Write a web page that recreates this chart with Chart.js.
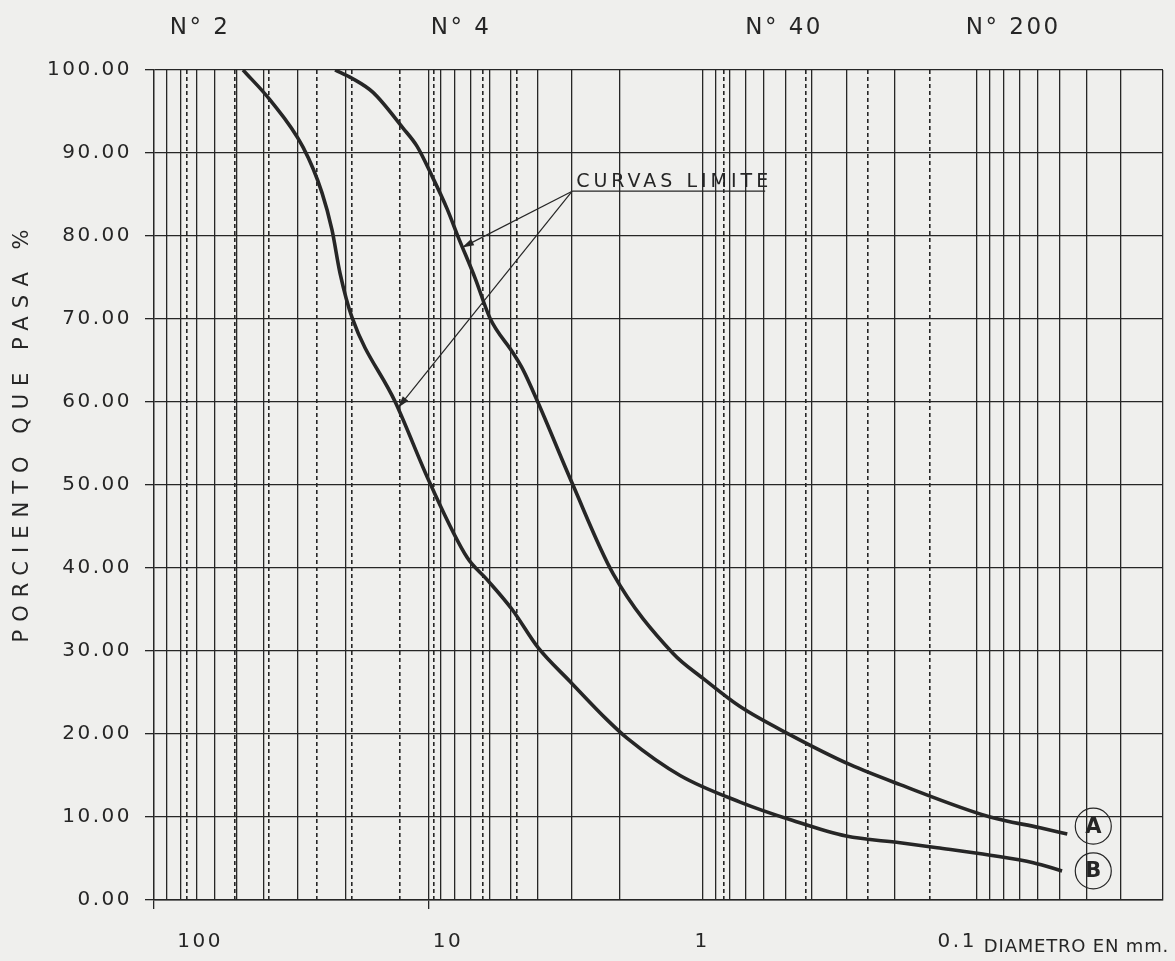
<!DOCTYPE html>
<html>
<head>
  <meta charset="utf-8">
  <script src="https://cdn.jsdelivr.net/npm/chart.js@4.4.0/dist/chart.umd.min.js"></script>
  <style>
    body { margin: 0; background: #efefed; }
    #wrap { width: 1175px; height: 961px; }
  </style>
</head>
<body>
<div id="wrap"><canvas id="granChart"></canvas></div>

<script type="text/javascript">
  // limit curves, diameter (mm) vs percent passing
  const curveADiam = [21.88, 18.98, 15.91, 12.37, 10.99, 9.69, 8.55, 7.79, 6.75, 5.96, 4.91, 4.52, 3.98, 2.99, 2.12, 1.282, 0.997, 0.731, 0.480, 0.290, 0.1907, 0.0896, 0.0589, 0.0469];
  const curveAPct  = [100, 99.0, 97.3, 93.0, 90.8, 87.2, 83.3, 79.9, 74.9, 70.1, 65.9, 63.9, 59.9, 50.2, 39.3, 29.7, 26.7, 23.3, 19.9, 16.3, 13.9, 10.0, 8.7, 7.95];

  const curveBDiam = [47.38, 37.77, 28.63, 24.41, 22.44, 20.98, 18.98, 13.2, 9.86, 7.23, 6.11, 4.95, 3.98, 3.04, 2.23, 1.887, 1.209, 0.731, 0.472, 0.300, 0.1907, 0.1398, 0.0896, 0.0624, 0.049];
  const curveBPct  = [100, 96.4, 90.7, 85.2, 80.7, 75.5, 70.2, 60.0, 50.2, 41.3, 38.6, 35.0, 30.4, 26.3, 21.7, 19.5, 15.0, 11.8, 9.6, 7.7, 6.9, 6.3, 5.4, 4.5, 3.5];

  // vertical lines of the log paper (solid) and sieve openings (dashed)
  const solidLines = [100, 90, 80, 70, 60, 50, 40, 30, 20,
                      10, 9, 8, 7, 6, 5, 4, 3, 2,
                      1, 0.9, 0.8, 0.7, 0.6, 0.5, 0.4, 0.3, 0.2,
                      0.1, 0.09, 0.08, 0.07, 0.06, 0.05, 0.04, 0.03, 0.021];
  const sieveLines = [76.2, 50.8, 38.1, 25.4, 19.05, 12.7, 9.525, 6.35, 4.76, 0.84, 0.42, 0.25, 0.149];
  const tickMarksAt = [100, 10];

  // bottom labels sit where the sheet prints them (a bit off their lines)
  const bottomLabels  = ['100', '10', '1', '0.1'];
  const bottomLabelAt = [67.96, 8.48, 1.005, 0.1181];
  const topLabels     = ['N° 2', 'N° 4', 'N° 40', 'N° 200'];
  const topLabelAt    = [67.9, 7.6, 0.505, 0.0738];
  const yTicks        = [0, 10, 20, 30, 40, 50, 60, 70, 80, 90, 100];

  const yTitle = 'PORCIENTO QUE PASA %';
  const xTitle = 'DIAMETRO EN mm.';

  // "CURVAS LIMITE" note and curve tags, in data units
  const noteText    = 'CURVAS LIMITE';
  const noteAnchor  = [2.99, 85.4];
  const noteEnd     = [0.592, 85.4];
  const noteTargets = [[7.54, 78.6], [12.9, 59.3]];
  const curveNames  = ['A', 'B'];
  const curveTagAt  = [[0.0377, 8.9], [0.0377, 3.5]];

  const ink = '#262626';
  const fontFam = "'DejaVu Sans', sans-serif";
  const xMin = 0.021, xMax = 100;

  function toPoints(xs, ys) {
    return xs.map((d, i) => ({x: d, y: ys[i]}));
  }

  function logAxis(position, values) {
    return {
      type: 'logarithmic',
      position: position,
      reverse: true,
      min: xMin,
      max: xMax,
      afterBuildTicks: s => { s.ticks = values.map(v => ({value: v})); }
    };
  }

  const paperPlugin = {
    id: 'paper',
    beforeDraw(chart) {
      const ctx = chart.ctx;
      ctx.save();
      ctx.fillStyle = '#efefed';
      ctx.fillRect(0, 0, chart.width, chart.height);
      ctx.restore();
      ctx.letterSpacing = '2.5px';
    }
  };

  const notesPlugin = {
    id: 'notes',
    afterDatasetsDraw(chart) {
      const ctx = chart.ctx;
      const xs = chart.scales.x, ys = chart.scales.y;
      const px = d => xs.getPixelForValue(d);
      const py = p => ys.getPixelForValue(p);

      ctx.save();
      ctx.strokeStyle = ink;
      ctx.fillStyle = ink;
      ctx.lineWidth = 1.2;

      const ax = px(noteAnchor[0]), ay = py(noteAnchor[1]);
      ctx.beginPath();
      ctx.moveTo(ax, ay);
      ctx.lineTo(px(noteEnd[0]), ay);
      ctx.stroke();

      noteTargets.forEach(t => {
        const tx = px(t[0]), ty = py(t[1]);
        ctx.beginPath();
        ctx.moveTo(ax, ay);
        ctx.lineTo(tx, ty);
        ctx.stroke();
        const ang = Math.atan2(ty - ay, tx - ax);
        ctx.beginPath();
        ctx.moveTo(tx, ty);
        ctx.lineTo(tx - 12 * Math.cos(ang) + 3.5 * Math.sin(ang), ty - 12 * Math.sin(ang) - 3.5 * Math.cos(ang));
        ctx.lineTo(tx - 12 * Math.cos(ang) - 3.5 * Math.sin(ang), ty - 12 * Math.sin(ang) + 3.5 * Math.cos(ang));
        ctx.closePath();
        ctx.fill();
      });

      ctx.font = '19px ' + fontFam;
      ctx.letterSpacing = '4px';
      ctx.textAlign = 'left';
      ctx.textBaseline = 'alphabetic';
      ctx.fillText(noteText, ax + 4, ay - 4);

      // circled curve names
      ctx.font = 'bold 21px ' + fontFam;
      ctx.letterSpacing = '0px';
      ctx.textAlign = 'center';
      ctx.textBaseline = 'middle';
      curveNames.forEach((n, i) => {
        const cx = px(curveTagAt[i][0]), cy = py(curveTagAt[i][1]);
        ctx.beginPath();
        ctx.arc(cx, cy, 18, 0, Math.PI * 2);
        ctx.stroke();
        ctx.fillText(n, cx, cy + 1);
      });

      // axis titles
      ctx.font = '21px ' + fontFam;
      ctx.letterSpacing = '8px';
      ctx.save();
      ctx.translate(23, 432);
      ctx.rotate(-Math.PI / 2);
      ctx.fillText(yTitle, 0, 0);
      ctx.restore();

      ctx.font = '18px ' + fontFam;
      ctx.letterSpacing = '0.8px';
      ctx.textAlign = 'right';
      ctx.fillText(xTitle, chart.width - 6, 947);
      ctx.restore();
    }
  };

  const ctx = document.getElementById('granChart').getContext('2d');

  const chart = new Chart(ctx, {
    type: 'line',
    data: {
      datasets: [{
        label: 'A',
        data: toPoints(curveADiam, curveAPct),
        borderColor: ink,
        borderWidth: 3.6,
        pointRadius: 0,
        cubicInterpolationMode: 'monotone',
        fill: false
      }, {
        label: 'B',
        data: toPoints(curveBDiam, curveBPct),
        borderColor: ink,
        borderWidth: 3.6,
        pointRadius: 0,
        cubicInterpolationMode: 'monotone',
        fill: false
      }]
    },
    options: {
      responsive: true,
      maintainAspectRatio: false,
      animation: false,
      layout: { padding: { right: 12 } },
      plugins: {
        legend: { display: false },
        tooltip: { enabled: false }
      },
      scales: {
        x: Object.assign(logAxis('bottom', solidLines), {
          afterFit: s => { s.height = 9; },
          grid: {
            color: ink,
            lineWidth: 1.3,
            tickLength: 9,
            tickColor: c => (c.tick && tickMarksAt.includes(c.tick.value)) ? ink : 'rgba(0,0,0,0)'
          },
          border: { color: ink, width: 1.6 },
          ticks: { display: false, autoSkip: false }
        }),
        xSieve: Object.assign(logAxis('bottom', sieveLines), {
          afterFit: s => { s.height = 0; },
          grid: { color: ink, lineWidth: 1.6, drawTicks: false },
          border: { display: false, dash: [4, 3] },
          ticks: { display: false, autoSkip: false }
        }),
        xLabels: Object.assign(logAxis('bottom', bottomLabelAt), {
          afterFit: s => { s.height = 52; },
          grid: { display: false },
          border: { display: false },
          ticks: {
            autoSkip: false,
            maxRotation: 0,
            padding: 13,
            color: ink,
            font: { family: fontFam, size: 20 },
            callback: (v, i) => bottomLabels[i]
          }
        }),
        xTop: Object.assign(logAxis('top', topLabelAt), {
          afterFit: s => { s.height = 70; },
          grid: { display: false },
          border: { display: false },
          ticks: {
            autoSkip: false,
            maxRotation: 0,
            padding: 20,
            color: ink,
            font: { family: fontFam, size: 23 },
            callback: (v, i) => topLabels[i]
          }
        }),
        y: {
          min: 0,
          max: 100,
          afterBuildTicks: s => { s.ticks = yTicks.map(v => ({value: v})); },
          afterFit: s => { s.width = 154; },
          grid: { color: ink, lineWidth: 1.3, tickLength: 9, tickColor: ink },
          border: { color: ink, width: 1.3 },
          ticks: {
            padding: 13,
            color: ink,
            font: { family: fontFam, size: 20 },
            callback: v => v.toFixed(2)
          }
        }
      }
    },
    plugins: [paperPlugin, notesPlugin]
  });
</script>
</body>
</html>
